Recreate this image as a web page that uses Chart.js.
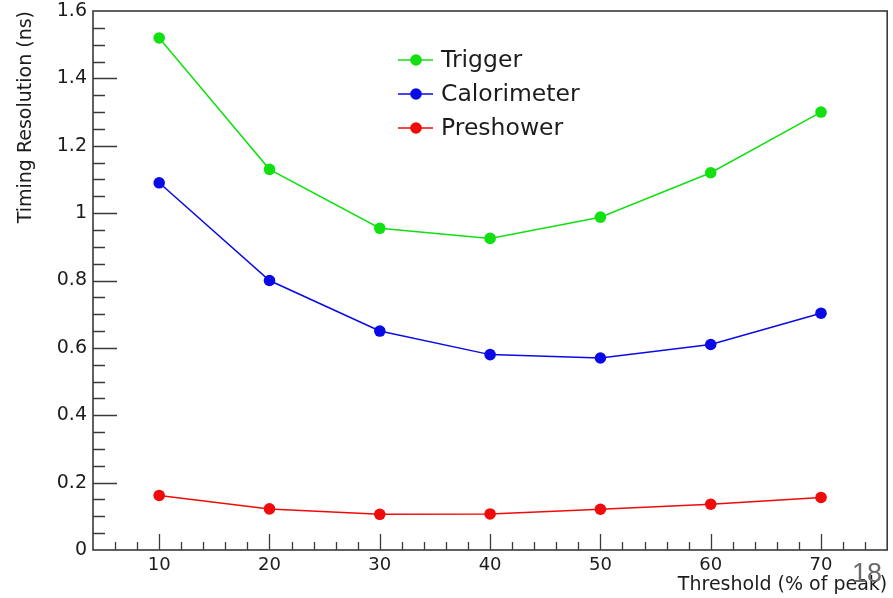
<!DOCTYPE html>
<html>
<head>
<meta charset="utf-8">
<script src="https://cdn.jsdelivr.net/npm/chart.js@4.4.1/dist/chart.umd.min.js"></script>
<style>
  html, body { margin: 0; padding: 0; background: #fff; }
  #wrap { width: 893px; height: 598px; }
</style>
</head>
<body>
<div id="wrap"><canvas id="myChart" width="893" height="598"></canvas></div>
<script>
// threshold values (% of peak)
var thresholds = [10, 20, 30, 40, 50, 60, 70];
// timing resolution in ns
var trigger = [1.52, 1.13, 0.955, 0.925, 0.988, 1.12, 1.30];
var calorimeter = [1.09, 0.80, 0.65, 0.58, 0.57, 0.61, 0.703];
var preshower = [0.162, 0.122, 0.106, 0.107, 0.121, 0.136, 0.156];
var seriesNames = ["Trigger", "Calorimeter", "Preshower"];
var seriesColors = ["#11e011", "#0a0ae8", "#f00a0a"];
var xMin = 4, xMax = 76;
var yMin = 0, yMax = 1.6;

var fontFam = "'DejaVu Sans', sans-serif";
var axisColor = "#3a3a3a";
var textColor = "#1c1c1c";

function toPoints(vals) {
    return vals.map(function(v, i) { return {x: thresholds[i], y: v}; });
}

function makeSet(name, vals, color) {
    return {
        label: name,
        data: toPoints(vals),
        borderColor: color,
        backgroundColor: color,
        borderWidth: 1.5,
        pointRadius: 5.8,
        pointBorderWidth: 0,
        pointBackgroundColor: color,
        tension: 0
    };
}

function isMult(v, step) {
    var r = v / step;
    return Math.abs(r - Math.round(r)) < 1e-6;
}

// ROOT style frame with inward ticks, legend box and slide number
var rootStyle = {
    id: 'rootStyle',
    afterDraw: function(chart) {
        var ctx = chart.ctx;
        var a = chart.chartArea;
        var xs = chart.scales.x, ys = chart.scales.y;
        ctx.save();
        ctx.strokeStyle = axisColor;
        ctx.lineWidth = 1.6;
        ctx.strokeRect(a.left, a.top, a.right - a.left, a.bottom - a.top);

        ctx.lineWidth = 1.3;
        ctx.beginPath();
        ys.ticks.forEach(function(t) {
            if (t.value <= yMin + 1e-9 || t.value >= yMax - 1e-9) return;
            var py = Math.round(ys.getPixelForValue(t.value)) + 0.5;
            var len = isMult(t.value, 0.2) ? 24 : 12;
            ctx.moveTo(a.left, py);
            ctx.lineTo(a.left + len, py);
        });
        xs.ticks.forEach(function(t) {
            if (t.value <= xMin || t.value >= xMax) return;
            var px = Math.round(xs.getPixelForValue(t.value)) + 0.5;
            var len = isMult(t.value, 10) ? 16 : 8;
            ctx.moveTo(px, a.bottom);
            ctx.lineTo(px, a.bottom - len);
        });
        ctx.stroke();

        // legend
        var lx = 398, ly = 60, gap = 34;
        ctx.font = "23.5px " + fontFam;
        ctx.textBaseline = 'middle';
        chart.data.datasets.forEach(function(ds, i) {
            var y = ly + i * gap;
            ctx.strokeStyle = ds.borderColor;
            ctx.lineWidth = 1.5;
            ctx.beginPath();
            ctx.moveTo(lx, y);
            ctx.lineTo(lx + 35, y);
            ctx.stroke();
            ctx.fillStyle = ds.borderColor;
            ctx.beginPath();
            ctx.arc(lx + 18, y, 5.8, 0, Math.PI * 2);
            ctx.fill();
            ctx.fillStyle = textColor;
            ctx.fillText(ds.label, lx + 43, y + 1);
        });

        // slide number
        ctx.font = "27px 'Liberation Sans', sans-serif";
        ctx.fillStyle = "#6a6a6a";
        ctx.textBaseline = 'alphabetic';
        ctx.fillText("18", 852, 582);
        ctx.restore();
    }
};

new Chart(document.getElementById("myChart").getContext("2d"), {
    type: "line",
    data: {
        datasets: [
            makeSet(seriesNames[0], trigger, seriesColors[0]),
            makeSet(seriesNames[1], calorimeter, seriesColors[1]),
            makeSet(seriesNames[2], preshower, seriesColors[2])
        ]
    },
    options: {
        responsive: false,
        animation: false,
        layout: { padding: { left: 0, top: 11, right: 5, bottom: 0 } },
        plugins: {
            legend: { display: false },
            tooltip: { enabled: false }
        },
        scales: {
            x: {
                type: 'linear',
                min: xMin,
                max: xMax,
                grid: { display: false, drawTicks: false },
                border: { display: false },
                ticks: {
                    stepSize: 2,
                    autoSkip: false,
                    maxRotation: 0,
                    padding: 5,
                    color: textColor,
                    font: { family: fontFam, size: 18 },
                    callback: function(v) {
                        return (isMult(v, 10) && v > xMin && v < xMax) ? String(v) : '';
                    }
                },
                title: {
                    display: true,
                    text: "Threshold (% of peak)",
                    align: 'end',
                    color: textColor,
                    font: { family: fontFam, size: 19 },
                    padding: { top: 0, bottom: 2 }
                },
                afterFit: function(s) {
                    s.height = 48;
                    s.paddingLeft = 0;
                    s.paddingRight = 0;
                }
            },
            y: {
                type: 'linear',
                min: yMin,
                max: yMax,
                grid: { display: false, drawTicks: false },
                border: { display: false },
                ticks: {
                    stepSize: 0.05,
                    autoSkip: false,
                    padding: 6,
                    color: textColor,
                    font: { family: fontFam, size: 19 },
                    callback: function(v) {
                        return isMult(v, 0.2) ? String(Math.round(v * 10) / 10) : '';
                    }
                },
                title: {
                    display: true,
                    text: "Timing Resolution (ns)",
                    align: 'end',
                    color: textColor,
                    font: { family: fontFam, size: 19 },
                    padding: { top: 15, bottom: 0 }
                },
                afterFit: function(s) {
                    s.width = 93;
                    s.paddingTop = 0;
                    s.paddingBottom = 0;
                }
            }
        }
    },
    plugins: [rootStyle]
});
</script>
</body>
</html>
